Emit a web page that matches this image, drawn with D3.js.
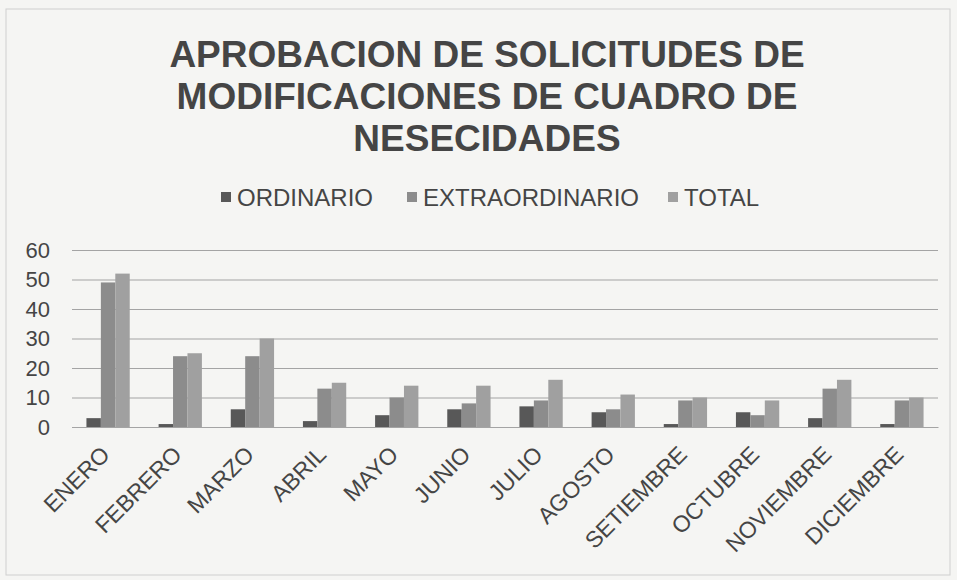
<!DOCTYPE html>
<html><head><meta charset="utf-8">
<script src="https://cdn.jsdelivr.net/npm/d3@7"></script>
<style>html,body{margin:0;padding:0;background:#f5f5f3;}svg{display:block;}</style>
</head><body>
<svg id="chart" width="957" height="580"></svg>
<script>
const categories = ["ENERO","FEBRERO","MARZO","ABRIL","MAYO","JUNIO","JULIO","AGOSTO","SETIEMBRE","OCTUBRE","NOVIEMBRE","DICIEMBRE"];
const seriesNames = ["ORDINARIO","EXTRAORDINARIO","TOTAL"];
const ordinario = [3,1,6,2,4,6,7,5,1,5,3,1];
const extraordinario = [49,24,24,13,10,8,9,6,9,4,13,9];
const total = [52,25,30,15,14,14,16,11,10,9,16,10];
const yTicks = [0,10,20,30,40,50,60];
const titleLines = ["APROBACION  DE SOLICITUDES DE","MODIFICACIONES DE CUADRO DE","NESECIDADES"];
const colors = ["#585858","#8c8c8c","#a0a0a0"];

const svg = d3.select("#chart");
const W = 957, H = 580;
const m = {left:72, right:19, top:250, bottom:153};
const x0 = d3.scaleBand().domain(categories).range([m.left, W - m.right]).paddingInner(0.4).paddingOuter(0.2);
const x1 = d3.scaleBand().domain(seriesNames).range([0, x0.bandwidth()]);
const y = d3.scaleLinear().domain([0,60]).range([H - m.bottom, m.top]);
const color = d3.scaleOrdinal().domain(seriesNames).range(colors);

// border
svg.append("rect").attr("x",6).attr("y",9).attr("width",944).attr("height",566)
  .attr("fill","none").attr("stroke","#cfcfcf").attr("stroke-width",1);

// title
svg.append("g").selectAll("text").data(titleLines).join("text")
  .attr("x", 487).attr("y",(d,i)=>67 + i*42)
  .attr("text-anchor","middle")
  .attr("font-family","Liberation Sans, Arial, sans-serif")
  .attr("font-weight","bold").attr("font-size",37).attr("fill","#454545")
  .text(d=>d);

// legend
const legendItems = [{n:"ORDINARIO",x:221},{n:"EXTRAORDINARIO",x:407},{n:"TOTAL",x:668}];
const lg = svg.append("g").selectAll("g").data(legendItems).join("g")
  .attr("transform",d=>`translate(${d.x},197)`);
lg.append("rect").attr("x",0).attr("y",-5).attr("width",10).attr("height",10).attr("fill",d=>color(d.n));
lg.append("text").attr("x",16).attr("y",8.5)
  .attr("font-family","Liberation Sans, Arial, sans-serif").attr("font-size",24).attr("fill","#454545")
  .text(d=>d.n);

// gridlines
const yAxis = d3.axisLeft(y).tickValues(yTicks).tickSize(-(W - m.left - m.right)).tickPadding(22);
const ga = svg.append("g").attr("transform",`translate(${m.left},0)`).call(yAxis);
ga.select(".domain").remove();
ga.selectAll(".tick line").attr("stroke","#a4a4a4").attr("stroke-width",1.2);
ga.selectAll(".tick text").attr("font-family","Liberation Sans, Arial, sans-serif")
  .attr("font-size",22).attr("fill","#454545");

// bars
const rows = categories.map((c,i)=>({cat:c, vals:[ordinario[i],extraordinario[i],total[i]]}));
const groups = svg.append("g").selectAll("g").data(rows).join("g")
  .attr("transform",d=>`translate(${x0(d.cat)},0)`);
groups.selectAll("rect").data(d=>d.vals.map((v,j)=>({s:seriesNames[j],v}))).join("rect")
  .attr("x",d=>x1(d.s)).attr("width",x1.bandwidth())
  .attr("y",d=>y(d.v)).attr("height",d=>y(0)-y(d.v))
  .attr("fill",d=>color(d.s));

// x axis
const xAxis = d3.axisBottom(x0).tickSize(0).tickPadding(0);
const gx = svg.append("g").attr("transform",`translate(0,${y(0)})`).call(xAxis);
gx.select(".domain").attr("stroke","#a4a4a4");
gx.selectAll(".tick text")
  .attr("font-family","Liberation Sans, Arial, sans-serif").attr("font-size",23).attr("fill","#454545")
  .attr("text-anchor","end").attr("dy",0)
  .attr("transform","translate(3,29) rotate(-45)");
</script>
</body></html>
